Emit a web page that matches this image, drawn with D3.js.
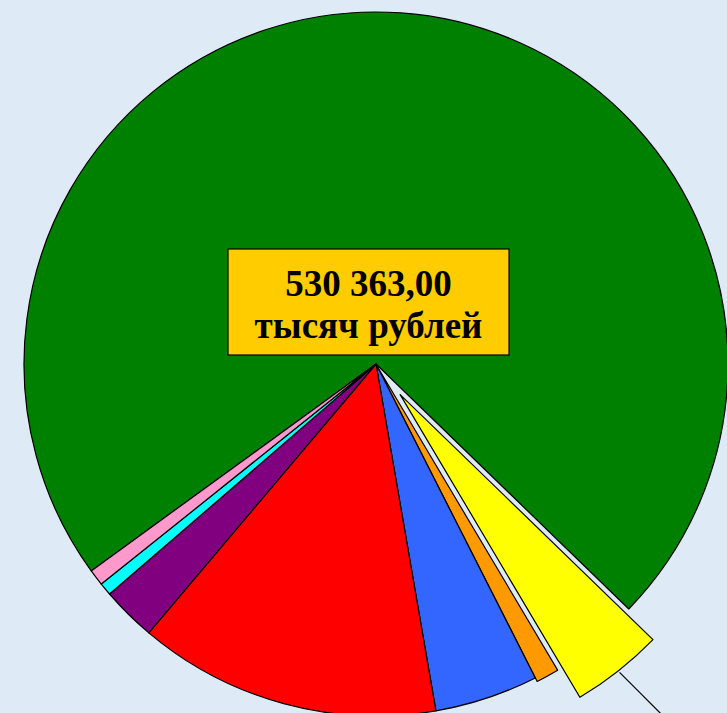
<!DOCTYPE html>
<html>
<head>
<meta charset="utf-8">
<script src="https://cdn.jsdelivr.net/npm/d3@7"></script>
<style>
  html, body { margin: 0; padding: 0; background: #deebf6; overflow: hidden; }
</style>
</head>
<body>
<div id="chart"></div>
<script>
// slices in drawing order (clockwise from the green one)
var categories = ["green", "yellow", "orange", "blue", "red", "purple", "cyan", "pink"];
var values = [383187, 22393, 5598, 25192, 73662, 13259, 3094, 3978];
var sliceColors = ["#008000", "#ffff00", "#ff9900", "#3366ff", "#ff0000", "#800080", "#00ffff", "#ff99cc"];
var explode = [0, 39, 4, 0, 0, 0, 0, 0];
var totalLines = ["530 363,00", "тысяч рублей"];

var svgWidth = 727;
var svgHeight = 713;
var cx = 376, cy = 364, radius = 352;

var svg = d3.select("#chart")
    .append("svg")
    .attr("width", svgWidth)
    .attr("height", svgHeight);

svg.append("rect")
    .attr("width", svgWidth)
    .attr("height", svgHeight)
    .attr("fill", "#deebf6");

var g = svg.append("g")
    .attr("transform", `translate(${cx}, ${cy})`);

var start = 234 * Math.PI / 180;
var pie = d3.pie()
    .sort(null)
    .startAngle(start)
    .endAngle(start + 2 * Math.PI);

var arcs = pie(values);
var arc = d3.arc().innerRadius(0).outerRadius(radius);

function offset(d, i, extra) {
    var mid = (d.startAngle + d.endAngle) / 2;
    var o = explode[i] + (extra || 0);
    return [Math.sin(mid) * o, -Math.cos(mid) * o];
}

g.selectAll("path.slice")
    .data(arcs)
    .enter()
    .append("path")
    .attr("class", "slice")
    .attr("d", arc)
    .attr("transform", (d, i) => {
        var p = offset(d, i);
        return `translate(${p[0]}, ${p[1]})`;
    })
    .attr("fill", (d, i) => sliceColors[i])
    .attr("stroke", "#000")
    .attr("stroke-width", 1.2)
    .attr("stroke-linejoin", "round");

// leader line of the yellow slice label (label itself is outside the frame)
var yi = 1;
var p0 = offset(arcs[yi], yi, radius + 2);
g.append("line")
    .attr("x1", p0[0])
    .attr("y1", p0[1])
    .attr("x2", p0[0] + 70)
    .attr("y2", p0[1] + 70)
    .attr("stroke", "#000")
    .attr("stroke-width", 1.2);

// total label box
var box = svg.append("g")
    .attr("transform", "translate(228, 249)");

box.append("rect")
    .attr("width", 281)
    .attr("height", 106)
    .attr("fill", "#ffcc00")
    .attr("stroke", "#000")
    .attr("stroke-width", 1.2);

box.selectAll("text")
    .data(totalLines)
    .enter()
    .append("text")
    .attr("x", 140.5)
    .attr("y", (d, i) => 47 + i * 42)
    .attr("text-anchor", "middle")
    .attr("font-family", "'Liberation Serif', 'Times New Roman', serif")
    .attr("font-weight", "bold")
    .attr("font-size", "37px")
    .attr("fill", "#000")
    .text(d => d);
</script>
</body>
</html>
